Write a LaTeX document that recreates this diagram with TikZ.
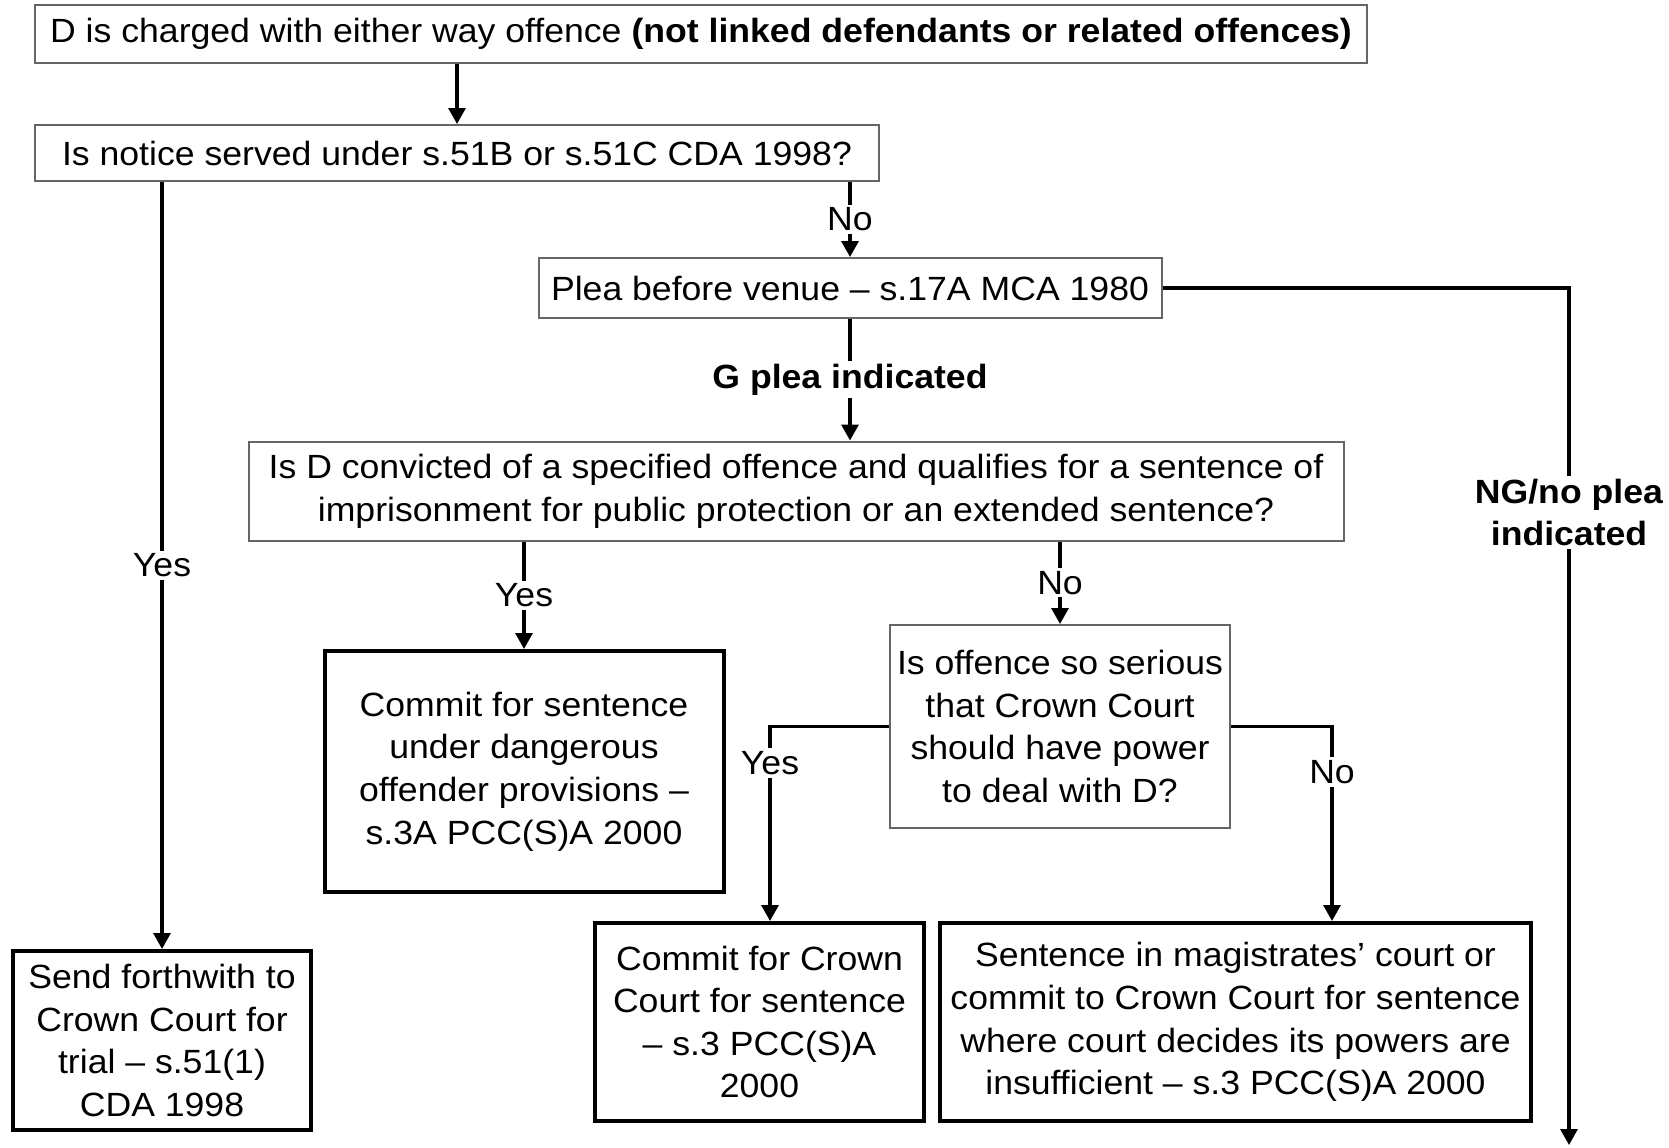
\documentclass[tikz,border=0pt]{standalone}
\usepackage{fontspec}
\setmainfont{Liberation Sans}[FakeStretch=1.06]
\usepackage{tikz}
\usetikzlibrary{positioning}
\usetikzlibrary{arrows,arrows.meta,shapes}
\usetikzlibrary{calc}
\tikzstyle{thinbox}=[rectangle,draw=black!60,line width=1pt,align=center,inner sep=2pt]
\tikzstyle{thickbox}=[rectangle,draw=black,line width=2pt,align=center,inner sep=2pt]
\tikzstyle{edge} = [draw,line width=1.6pt,->]
\tikzstyle{lbl} = [fill=white,inner sep=1.5pt]

\begin{document}
\begin{tikzpicture}[x=0.5pt,y=-0.5pt,>={Triangle[length=8pt,width=8.5pt]},font=\fontsize{16.8}{21.3}\selectfont]
    \useasboundingbox (0,0) rectangle (1669,1147);
    % First we draw the question boxes
    \node[thinbox,minimum width=666pt,minimum height=29pt] (charged) at (701,34)
        {D is charged with either way offence \textbf{(not linked defendants or related offences)}};
    \node[thinbox,minimum width=422pt,minimum height=28pt] (notice) at (457,153)
        {Is notice served under s.51B or s.51C CDA 1998?};
    \node[thinbox,minimum width=311.5pt,minimum height=30pt] (plea) at (850,288)
        {Plea before venue – s.17A MCA 1980};
    \node[thinbox,minimum width=547.5pt,minimum height=49.5pt] (qual) at (796,491)
        {Is D convicted of a specified offence and qualifies for a sentence of\\imprisonment for public protection or an extended sentence?};
    \node[thinbox,minimum width=170pt,minimum height=101.5pt] (serious) at (1060,726.5)
        {Is offence so serious\\that Crown Court\\should have power\\to deal with D?};

    % Then the outcome boxes
    \foreach \pos/\name/\bw/\bh/\txt in {
        {(524,771.5)/danger/199.5pt/120.5pt/{Commit for sentence\\under dangerous\\offender provisions –\\s.3A PCC(S)A 2000}},
        {(759.5,1022)/crown/164.5pt/99pt/{Commit for Crown\\Court for sentence\\– s.3 PCC(S)A\\2000}},
        {(1235.5,1022)/magis/295.5pt/99pt/{Sentence in magistrates’ court or\\commit to Crown Court for sentence\\where court decides its powers are\\insufficient – s.3 PCC(S)A 2000}},
        {(162,1040.5)/send/149pt/89.5pt/{Send forthwith to\\Crown Court for\\trial – s.51(1)\\CDA 1998}}}
            \node[thickbox,minimum width=\bw,minimum height=\bh] (\name) at \pos {\txt};
    \coordinate (ngend) at (1569,1145);

    % Connect boxes with arrows and draw labels
    \draw[edge] (charged.south -| notice) -- (notice.north);
    \draw[edge] (notice.south -| send) -- node[lbl] {Yes} (send.north);
    \foreach \source/ \dest /\lab in {notice/plea/{No}, qual/danger/{Yes}, qual/serious/{No}}
        \draw[edge] (\source.south -| \dest) -- node[lbl] {\lab} (\dest.north);
    \draw[edge] (plea.south) -- node[lbl] {\textbf{G plea indicated}} (plea.south |- qual.north);
    \draw[edge] (plea.east) -| node[lbl,pos=0.631,align=center] {\textbf{NG/no plea}\\\textbf{indicated}} (ngend);

    \draw[edge] (serious.west) -| node[lbl,pos=0.594] {Yes} ([xshift=5.25pt]crown.north);
    \draw[edge] (serious.east) -| node[lbl,pos=0.617] {No} ([xshift=48.25pt]magis.north);

\end{tikzpicture}
\end{document}
